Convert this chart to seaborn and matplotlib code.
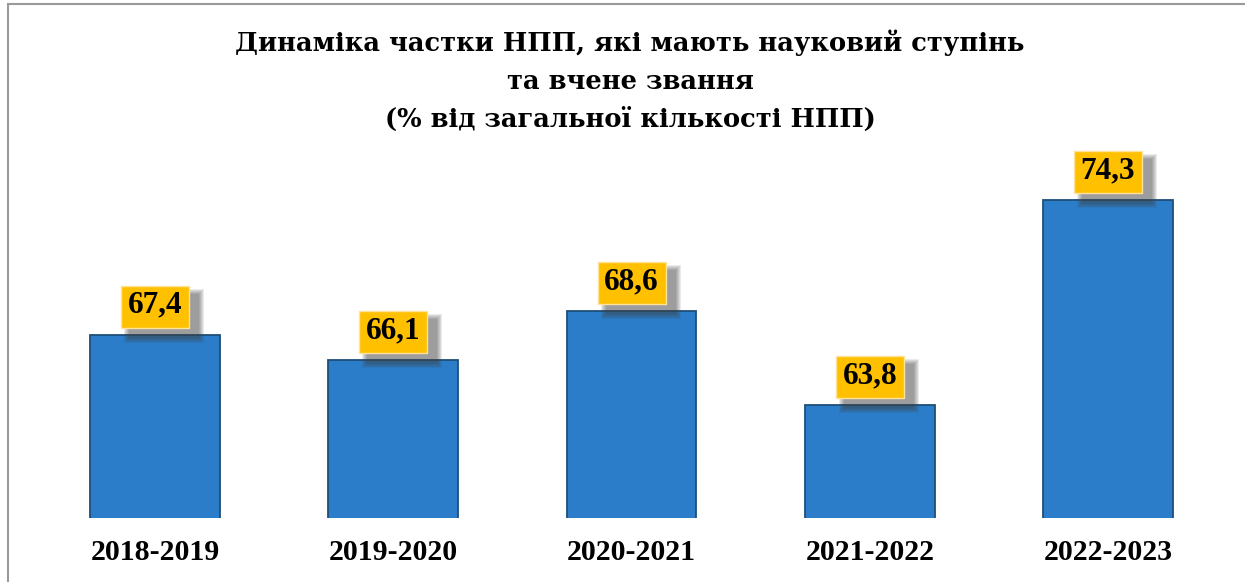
import matplotlib
matplotlib.use("Agg")
import matplotlib.pyplot as plt
import matplotlib.transforms as mtransforms
import seaborn as sns
from matplotlib.patches import Rectangle

# data
years = ["2018-2019", "2019-2020", "2020-2021", "2021-2022", "2022-2023"]
shares = [67.4, 66.1, 68.6, 63.8, 74.3]
labels = ["67,4", "66,1", "68,6", "63,8", "74,3"]

title = ("Динаміка частки НПП, які мають науковий ступінь\n"
         "та вчене звання\n"
         "(% від загальної кількості НПП)")

sns.set_style("white")
plt.rcParams['font.family'] = ['Liberation Serif', 'DejaVu Serif']
plt.rcParams['text.color'] = 'black'
plt.rcParams['xtick.color'] = 'black'

fig = plt.figure(figsize=(12.45, 5.82), dpi=100)
ax = fig.add_axes([0.029, 0.11, 0.9566, 0.6323])

sns.barplot(x=years, y=shares, color="#2B7DC9", saturation=1, width=0.545,
            edgecolor="#1F4E79", linewidth=1.3, ax=ax)

ax.set_ylim(58, 76.86)
ax.set_xlim(-0.5, 4.5)
ax.set_yticks([])
ax.set_xlabel("")
ax.set_ylabel("")
sns.despine(ax=ax, left=True, bottom=True)
ax.tick_params(axis='x', length=0, pad=15)
for t in ax.get_xticklabels():
    t.set_fontsize(21.5)
    t.set_fontweight("bold")
    t.set_color("black")

# value labels: yellow boxes (68x42 px) with a soft grey shadow
bw, bh, lift = 68, 42, 28
for i, (v, lab) in enumerate(zip(shares, labels)):
    tr = mtransforms.Affine2D() + mtransforms.ScaledTranslation(i, v, ax.transData)
    n = 6
    for k in range(n):
        g = n - k  # outer layers first
        ax.add_patch(Rectangle((-bw / 2 + 9 - g, lift - bh / 2 - 9 - g),
                               bw + 2 * g, bh + 2 * g, transform=tr,
                               fc=(0.25, 0.25, 0.25, 0.11), ec="none",
                               zorder=4, clip_on=False))
    ax.add_patch(Rectangle((-bw / 2, lift - bh / 2), bw, bh, transform=tr,
                           fc="#FFC000", ec="#FFE39A", lw=1, zorder=5,
                           clip_on=False))
    ax.annotate(lab, xy=(i, v), xytext=(0, lift * 0.72 + 1),
                textcoords="offset points", ha="center", va="center",
                fontsize=22.5, fontweight="bold", color="black", zorder=6)

fig.text(0.506, 1 - 30 / 582, title, ha="center", va="top", fontsize=18.5,
         fontweight="bold", family=["DejaVu Serif"], linespacing=1.62,
         color="black")

# thin grey frame around the chart area
fig.patches.append(Rectangle((8 / 1245, -0.02), 1.1, 0.9931 + 0.02,
                             transform=fig.transFigure, fill=False,
                             ec="#9A9A9A", lw=1.5))

plt.savefig("out.png", dpi=100)
